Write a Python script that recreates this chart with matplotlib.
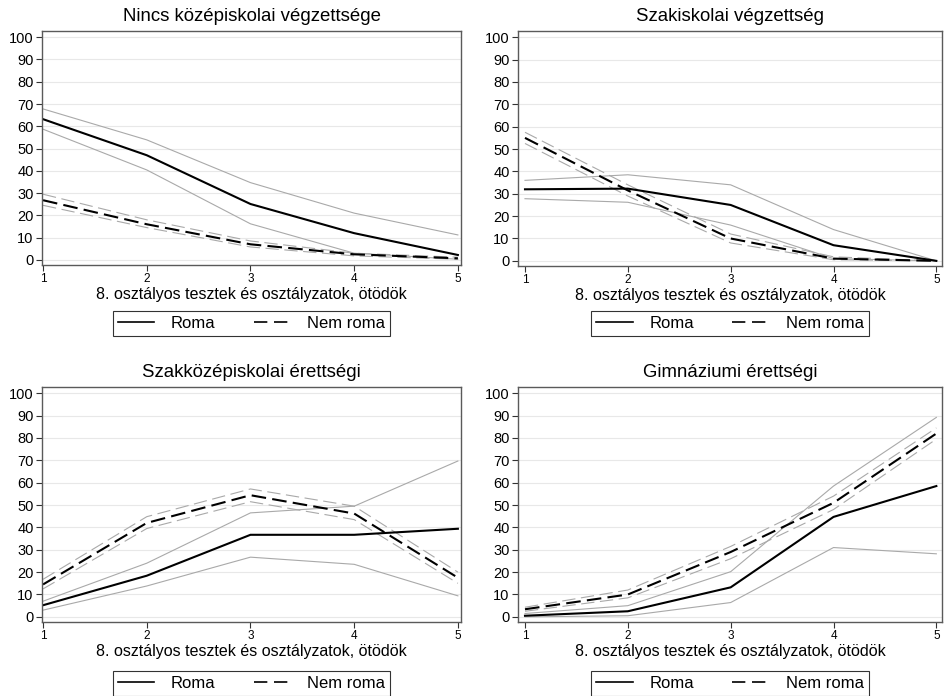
import matplotlib
matplotlib.use("Agg")
import matplotlib.pyplot as plt
from matplotlib.lines import Line2D

plt.rcParams['font.family'] = ['Liberation Sans', 'DejaVu Sans']

quintiles = [1, 2, 3, 4, 5]
titles = ["Nincs középiskolai végzettsége", "Szakiskolai végzettség",
          "Szakközépiskolai érettségi", "Gimnáziumi érettségi"]
xlabel = "8. osztályos tesztek és osztályzatok, ötödök"
legend_labels = ["Roma", "Nem roma"]

# Roma: point estimate, upper CI, lower CI
roma_mid = [[63.2, 47.0, 25.1, 12.0, 2.2],
            [32.0, 32.3, 25.0, 7.0, 0.0],
            [5.2, 18.4, 36.7, 36.7, 39.4],
            [0.5, 2.5, 13.2, 44.7, 58.5]]
roma_hi = [[67.8, 53.9, 34.7, 21.0, 11.2],
           [36.0, 38.5, 34.0, 14.0, 0.0],
           [7.0, 24.0, 46.5, 49.5, 69.7],
           [1.5, 5.0, 20.2, 58.5, 89.2]]
roma_lo = [[58.7, 40.4, 16.2, 3.0, 0.3],
           [27.8, 26.2, 16.0, 1.0, 0.0],
           [3.0, 13.8, 26.7, 23.5, 9.4],
           [0.0, 0.5, 6.4, 31.0, 28.2]]
# Nem roma
nem_mid = [[26.8, 16.0, 7.0, 2.5, 0.7],
           [55.0, 31.5, 10.0, 1.0, 0.0],
           [14.5, 42.0, 54.4, 46.2, 17.5],
           [3.4, 10.0, 29.0, 51.0, 82.0]]
nem_hi = [[29.5, 18.0, 8.5, 3.0, 1.2],
          [57.5, 34.0, 12.0, 1.8, 0.0],
          [16.8, 44.8, 57.2, 49.5, 20.0],
          [4.3, 12.0, 31.5, 54.0, 84.5]]
nem_lo = [[24.5, 14.5, 5.8, 1.8, 0.3],
          [52.5, 29.0, 8.0, 0.5, 0.0],
          [12.5, 39.5, 51.5, 43.5, 15.0],
          [2.5, 8.5, 26.0, 48.0, 79.5]]

W, H = 947, 696
fig = plt.figure(figsize=(W / 100, H / 100), dpi=100)

# axes boxes in pixels: left, right, top, bottom
boxes = [(42, 461, 31, 265), (518, 942, 31, 266),
         (42, 461, 387, 622), (518, 942, 387, 622)]
xlims = [(0.99, 5.03), (0.932, 5.055), (0.99, 5.03), (0.932, 5.055)]
legend_top = [311, 311, 671, 671]   # pixel row of legend box top

ci_col = '#a9a9a9'
main_dash = (0, (7, 3))
ci_dash = (0, (12, 5))

for i, (l, r, t, b) in enumerate(boxes):
    ax = fig.add_axes([l / W, 1 - b / H, (r - l) / W, (b - t) / H])
    ax.plot(quintiles, roma_hi[i], color=ci_col, lw=0.8)
    ax.plot(quintiles, roma_lo[i], color=ci_col, lw=0.8)
    ax.plot(quintiles, nem_hi[i], color=ci_col, lw=0.8, linestyle=ci_dash)
    ax.plot(quintiles, nem_lo[i], color=ci_col, lw=0.8, linestyle=ci_dash)
    ax.plot(quintiles, roma_mid[i], color='black', lw=1.5)
    ax.plot(quintiles, nem_mid[i], color='black', lw=1.5, linestyle=main_dash)

    ax.set_xlim(*xlims[i])
    ax.set_ylim(-2.3, 102.8)
    ax.set_yticks(range(0, 101, 10))
    ax.set_xticks(quintiles)
    ax.grid(axis='y', color='#e8e8e8', lw=0.8)
    ax.set_axisbelow(True)
    for s in ax.spines.values():
        s.set_color('#5a5a5a')
        s.set_linewidth(1.0)
    ax.tick_params(axis='y', labelsize=10.5, length=4, width=0.8, color='#333333', pad=2)
    ax.tick_params(axis='x', labelsize=8.5, length=4, width=0.8, color='#333333', pad=2)
    ax.set_title(titles[i], fontsize=13.4, pad=7)
    ax.set_xlabel(xlabel, fontsize=11.5, labelpad=1)

    handles = [Line2D([], [], color='black', lw=1.2),
               Line2D([], [], color='black', lw=1.2, linestyle=(0, (8, 4)))]
    anchor_y = -(legend_top[i] - b) / (b - t)
    leg = ax.legend(handles, legend_labels, loc='upper center',
                    bbox_to_anchor=(0.5, anchor_y), ncol=2, fontsize=12,
                    handlelength=2.2, handletextpad=1.0, columnspacing=2.3,
                    frameon=True, fancybox=False, borderpad=0.3,
                    borderaxespad=0)
    leg.get_frame().set_edgecolor('black')
    leg.get_frame().set_linewidth(0.8)

fig.savefig("out.png", dpi=100)
